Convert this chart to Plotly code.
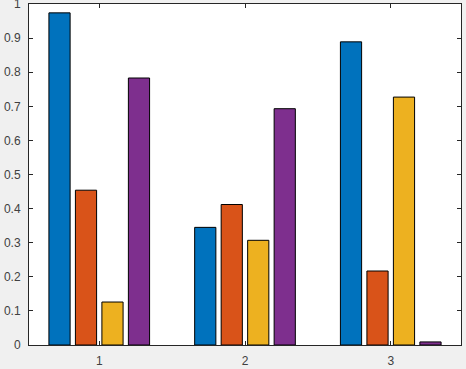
import plotly.graph_objects as go

categories = [1, 2, 3]
series_a = [0.974, 0.345, 0.889]
series_b = [0.454, 0.412, 0.217]
series_c = [0.126, 0.307, 0.727]
series_d = [0.783, 0.693, 0.009]
colors = ["#0072BD", "#D95319", "#EDB120", "#7E2F8E"]
y_ticks = [0, 0.1, 0.2, 0.3, 0.4, 0.5, 0.6, 0.7, 0.8, 0.9, 1]
y_tick_labels = ["0", "0.1", "0.2", "0.3", "0.4", "0.5", "0.6", "0.7", "0.8", "0.9", "1"]

fig = go.Figure()
for vals, col in zip([series_a, series_b, series_c, series_d], colors):
    fig.add_trace(go.Bar(x=categories, y=vals, marker=dict(color=col, line=dict(color="black", width=1))))

axis_col = "#262626"
fig.update_layout(
    width=466, height=369,
    margin=dict(l=29, r=5, t=4, b=24),
    paper_bgcolor="#F0F0F0", plot_bgcolor="white",
    barmode="group", bargap=0.273, bargroupgap=0.2,
    showlegend=False,
    font=dict(family="Liberation Sans, Arial, sans-serif", size=12, color="#404040"),
    xaxis=dict(range=[0.518, 3.482], tickvals=categories, ticktext=[str(c) for c in categories],
               ticks="inside", ticklen=4, tickcolor=axis_col, showline=True, linecolor=axis_col,
               linewidth=1, mirror="ticks", showgrid=False, zeroline=False, ticklabelstandoff=5,
               automargin=False, ticklabeloverflow="allow"),
    yaxis=dict(range=[0, 1], tickvals=y_ticks, ticktext=y_tick_labels,
               ticks="inside", ticklen=4, tickcolor=axis_col, showline=True, linecolor=axis_col,
               linewidth=1, mirror="ticks", showgrid=False, zeroline=False, ticklabelstandoff=5,
               automargin=False, ticklabeloverflow="allow"),
)
fig.write_html("out.html", config={"displayModeBar": False},
               post_script="document.body.style.margin='0';document.body.style.background='#F0F0F0';")
